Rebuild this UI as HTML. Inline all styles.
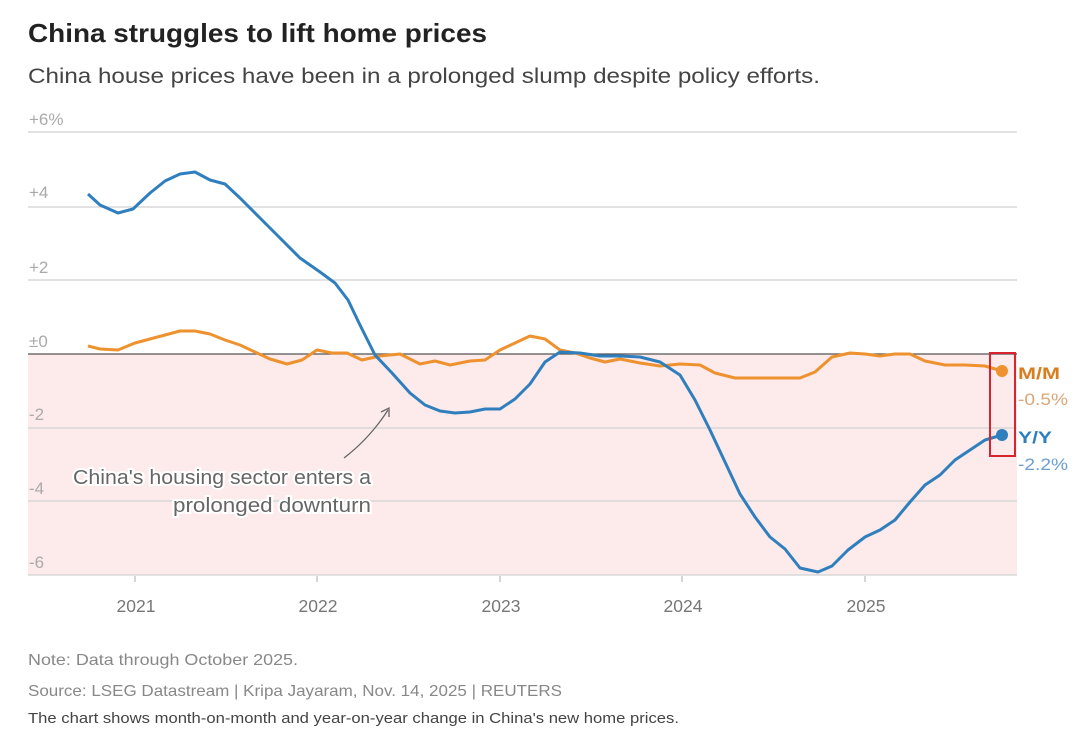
<!DOCTYPE html>
<html><head><meta charset="utf-8"><style>
html,body{margin:0;padding:0;background:#fff;width:1080px;height:745px;overflow:hidden}
svg{display:block}
</style></head><body>
<svg width="1080" height="745" xmlns="http://www.w3.org/2000/svg" font-family="'Liberation Sans', sans-serif">
<text x="28" y="42" font-size="26" font-weight="bold" fill="#222" textLength="459" lengthAdjust="spacingAndGlyphs">China struggles to lift home prices</text>
<text x="28" y="83" font-size="21" fill="#444" textLength="792" lengthAdjust="spacingAndGlyphs">China house prices have been in a prolonged slump despite policy efforts.</text>
<rect x="28" y="354" width="989" height="221" fill="#fdeaea"/>
<g stroke="#d8d8d8" stroke-width="1.5">
<line x1="28" y1="132" x2="1017" y2="132"/>
<line x1="28" y1="207" x2="1017" y2="207"/>
<line x1="28" y1="280" x2="1017" y2="280"/>
<line x1="28" y1="428" x2="1017" y2="428"/>
<line x1="28" y1="501" x2="1017" y2="501"/>
<line x1="28" y1="575" x2="1017" y2="575"/>
</g>
<line x1="28" y1="354" x2="1017" y2="354" stroke="#555" stroke-width="1.2"/>
<g font-size="17" fill="#aaa">
<text x="29" y="125">+6%</text><text x="29" y="198">+4</text><text x="29" y="273">+2</text>
<text x="29" y="347">±0</text><text x="29" y="420">-2</text><text x="29" y="494">-4</text><text x="29" y="568">-6</text>
</g>
<g stroke="#bbb" stroke-width="1.2">
<line x1="135" y1="576" x2="135" y2="582"/><line x1="317" y1="576" x2="317" y2="582"/>
<line x1="500" y1="576" x2="500" y2="582"/><line x1="682" y1="576" x2="682" y2="582"/>
<line x1="865" y1="576" x2="865" y2="582"/>
</g>
<g font-size="17.5" fill="#777" text-anchor="middle">
<text x="136" y="612">2021</text><text x="318" y="612">2022</text><text x="501" y="612">2023</text>
<text x="683" y="612">2024</text><text x="866" y="612">2025</text>
</g>
<polyline fill="none" stroke="#ee922f" stroke-width="3" stroke-linejoin="round" points="88,346 100,349 118,350 135,343 150,339 165,335 180,331 195,331 210,334 225,340 240,345 255,352 270,359 287,364 302,360 317,350 332,353 347,353 362,360 380,356 400,354 420,364 435,361 450,365 470,361 485,360 500,350 515,343 530,336 545,339 560,350 575,353 590,358 605,362 620,359 640,363 660,366 680,364 700,365 715,373 735,378 760,378 780,378 800,378 815,372 832,357 850,353 865,354 880,356 895,354 910,354 925,361 945,365 965,365 985,366 1002,371"/>
<polyline fill="none" stroke="#2f7fbe" stroke-width="3" stroke-linejoin="round" points="88,194 100,205 118,213 133,209 150,193 165,181 180,174 195,172 210,180 225,184 240,198 260,218 280,238 300,258 320,272 335,283 348,300 360,325 375,355 392,373 410,393 425,405 440,411 455,413 470,412 485,409 500,409 515,399 530,384 545,362 560,352 580,353 600,356 620,356 640,357 660,362 680,375 695,400 710,430 725,462 740,494 755,517 770,537 785,549 800,568 818,572 832,566 848,550 865,537 880,530 895,520 910,502 925,485 940,475 955,460 970,450 985,440 1002,435"/>
<circle cx="1002" cy="371" r="6" fill="#ee922f"/>
<circle cx="1002" cy="435" r="6" fill="#2f7fbe"/>
<rect x="990" y="353" width="25" height="103" fill="none" stroke="#d9232e" stroke-width="2"/>
<text x="1018" y="379" font-size="17" font-weight="bold" fill="#d97d1f" textLength="42" lengthAdjust="spacingAndGlyphs">M/M</text>
<text x="1018" y="405" font-size="17" fill="#d9a77a" textLength="50" lengthAdjust="spacingAndGlyphs">-0.5%</text>
<text x="1018" y="443" font-size="17" font-weight="bold" fill="#2f7fbe" textLength="34" lengthAdjust="spacingAndGlyphs">Y/Y</text>
<text x="1018" y="470" font-size="17" fill="#6a9fcf" textLength="50" lengthAdjust="spacingAndGlyphs">-2.2%</text>
<path d="M344,458 Q370,438 388,410" fill="none" stroke="#666" stroke-width="1.3"/>
<path d="M381,412 L389,408 L389,417" fill="none" stroke="#666" stroke-width="1.3"/>
<g font-size="20" fill="#666" stroke="#fff" stroke-width="4" paint-order="stroke">
<text x="73" y="484" textLength="298" lengthAdjust="spacingAndGlyphs">China's housing sector enters a</text>
<text x="173" y="512" textLength="198" lengthAdjust="spacingAndGlyphs">prolonged downturn</text>
</g>
<text x="28" y="665" font-size="16" fill="#888" textLength="270" lengthAdjust="spacingAndGlyphs">Note: Data through October 2025.</text>
<text x="28" y="696" font-size="16" fill="#888" textLength="534" lengthAdjust="spacingAndGlyphs">Source: LSEG Datastream | Kripa Jayaram, Nov. 14, 2025 | REUTERS</text>
<text x="28" y="723" font-size="14.5" fill="#444" textLength="651" lengthAdjust="spacingAndGlyphs">The chart shows month-on-month and year-on-year change in China's new home prices.</text>
</svg>
</body></html>
